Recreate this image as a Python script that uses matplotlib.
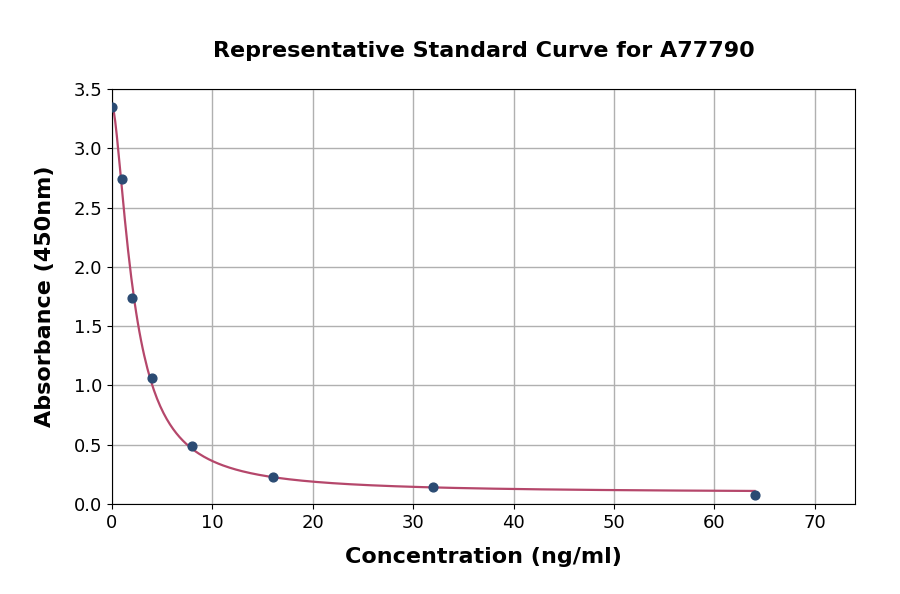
import matplotlib
matplotlib.use("Agg")
import matplotlib.pyplot as plt
import numpy as np

# standard points
conc = np.array([0, 1, 2, 4, 8, 16, 32, 64], dtype=float)
absorb = np.array([3.35, 2.74, 1.74, 1.06, 0.49, 0.23, 0.14, 0.08])

title = "Representative Standard Curve for A77790"
xlabel = "Concentration (ng/ml)"
ylabel = "Absorbance (450nm)"


def logistic4(x, a, b, c, d):
    return d + (a - d) / (1 + (x / c) ** b)


# 4PL fit: grid over b, c and linear least squares for a, d
best = None
for b in np.linspace(0.5, 3.0, 126):
    for c in np.linspace(0.5, 10, 191):
        g = 1 / (1 + (conc / c) ** b)
        A = np.column_stack([g, 1 - g])
        coef, *_ = np.linalg.lstsq(A, absorb, rcond=None)
        err = np.sum((A @ coef - absorb) ** 2)
        if best is None or err < best[0]:
            best = (err, coef[0], b, c, coef[1])
_, a, b, c, d = best

xs = np.linspace(0, 64, 400)
ys = logistic4(xs, a, b, c, d)

fig = plt.figure(figsize=(9, 5.94), dpi=100)
ax = fig.add_axes([0.1244, 0.1515, 0.8256, 0.6985])
ax.grid(True, color="#b0b0b0", linewidth=1)
ax.set_axisbelow(True)
ax.plot(xs, ys, color="#b5476b", linewidth=1.6, zorder=2)
ax.scatter(conc, absorb, color="#2b4b73", s=40, zorder=3)

ax.set_xlim(0, 74)
ax.set_ylim(0, 3.5)
ax.set_xticks(np.arange(0, 71, 10))
ax.set_yticks(np.arange(0, 3.51, 0.5))
ax.tick_params(labelsize=13)
ax.set_xlabel(xlabel, fontsize=16, fontweight="bold", labelpad=11)
ax.set_ylabel(ylabel, fontsize=16, fontweight="bold", labelpad=13)
ax.set_title(title, fontsize=16, fontweight="bold", pad=23)

fig.savefig("out.png", dpi=100)
